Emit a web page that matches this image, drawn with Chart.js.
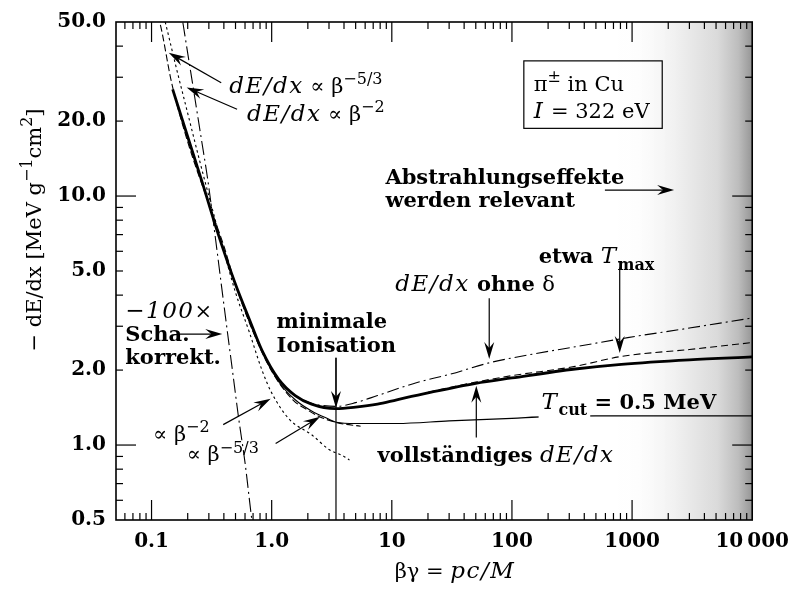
<!DOCTYPE html>
<html>
<head>
<meta charset="utf-8">
<script src="https://cdn.jsdelivr.net/npm/chart.js@4.4.1/dist/chart.umd.min.js"></script>
<style>
  html, body { margin: 0; padding: 0; background: #fff; }
  canvas { display: block; }
</style>
</head>
<body>
<canvas id="dedx" width="799" height="592"></canvas>
<script>
// axis ticks
var xTicks = [0.1, 1, 10, 100, 1000, 10000];
var xTickLabels = ['0.1', '1.0', '10', '100', '1000', '10\u2009000'];
var yTicks = [0.5, 1, 2, 5, 10, 20, 50];
var yTickLabels = ['0.5', '1.0', '2.0', '5.0', '10.0', '20.0', '50.0'];

// vollstaendiges dE/dx (thick)
var fullBg   = [0.15, 0.2, 0.265, 0.35, 0.49, 0.66, 0.83, 1.14, 1.57, 2.15, 3.4, 5, 7.6, 11, 20, 50, 100, 336, 814, 3000, 10000];
var fullDedx = [26.8, 17.3, 11.3, 7.3, 4.54, 3.15, 2.4, 1.84, 1.58, 1.46, 1.40, 1.42, 1.46, 1.52, 1.62, 1.77, 1.86, 2.02, 2.11, 2.2, 2.26];

// T_cut = 0.5 MeV (thin)
var cutBg   = [0.6, 0.83, 1.14, 1.57, 2.15, 3.0, 3.45, 5, 11, 30, 100, 190, 500, 10000];
var cutDedx = [3.45, 2.38, 1.80, 1.52, 1.37, 1.27, 1.235, 1.22, 1.22, 1.25, 1.28, 1.30, 1.31, 1.31];

// dE/dx ohne delta (dash-dot)
var noDeltaBg   = [1.8, 2.15, 3.43, 5, 7.6, 16, 30, 65, 150, 336, 919, 3000, 10000];
var noDeltaDedx = [1.52, 1.47, 1.43, 1.48, 1.58, 1.78, 1.92, 2.14, 2.32, 2.48, 2.70, 2.95, 3.24];

// etwa T_max (dashed)
var tmaxBg   = [20, 50, 100, 336, 814, 3000, 10000];
var tmaxDedx = [1.63, 1.79, 1.90, 2.07, 2.27, 2.42, 2.58];

// ~ beta^-2 (dotted)
var b2Bg   = [0.12, 0.13, 0.16, 0.2, 0.25, 0.3, 0.4, 0.5, 0.65, 0.83, 1.0, 1.4, 2.15, 3.0, 4.0, 4.44];
var b2Dedx = [58, 50, 33, 21.5, 14, 10, 6.0, 4.1, 2.85, 2.0, 1.62, 1.27, 1.1, 0.96, 0.9, 0.87];

// ~ beta^-5/3 (dashed)
var b53Bg   = [0.105, 0.117, 0.147, 0.2, 0.3, 0.4, 0.5, 0.7, 1.0, 1.5, 2.0, 2.5, 3.5, 5.5];
var b53Dedx = [58, 50, 28.5, 16.5, 9.3, 6.3, 4.4, 2.85, 1.98, 1.52, 1.38, 1.30, 1.23, 1.19];

// -100 x Schalenkorrektur (dash-dot)
var shellBg   = [0.17, 0.182, 0.22, 0.26, 0.294, 0.34, 0.378, 0.43, 0.471, 0.53, 0.6, 0.684, 0.72];
var shellDedx = [62, 50, 28.1, 16.9, 11.6, 6.8, 4.54, 2.8, 2.0, 1.29, 0.85, 0.5, 0.42];

var FONT = '"DejaVu Serif", serif';

function pts(xs, ys) {
  return xs.map(function (v, i) { return { x: v, y: ys[i] }; });
}

function curve(xs, ys, width, dash) {
  return {
    data: pts(xs, ys),
    borderColor: '#000',
    borderWidth: width,
    borderDash: dash,
    pointRadius: 0,
    fill: false,
    cubicInterpolationMode: 'monotone'
  };
}

// text pieces: [text, style ('b','i','' ), shift ('sup','sub')]
function fontOf(p, size) {
  var st = p[1] || '';
  var sz = p[2] ? size * 0.75 : size;
  if (st.indexOf('i') >= 0) sz *= 1.08;
  return (st.indexOf('i') >= 0 ? 'italic ' : '') + (st.indexOf('b') >= 0 ? 'bold ' : '') + Math.round(sz) + 'px ' + FONT;
}

function spacingOf(p) {
  return (p[1] || '').indexOf('i') >= 0 ? '1.5px' : '0px';
}

function richWidth(ctx, parts, size) {
  var w = 0;
  parts.forEach(function (p) {
    ctx.font = fontOf(p, size);
    ctx.letterSpacing = spacingOf(p);
    w += ctx.measureText(p[0]).width;
  });
  ctx.letterSpacing = '0px';
  return w;
}

function drawRich(ctx, x, y, parts, size, align) {
  var w = richWidth(ctx, parts, size);
  if (align === 'center') x -= w / 2;
  ctx.textAlign = 'left';
  ctx.textBaseline = 'alphabetic';
  parts.forEach(function (p) {
    ctx.font = fontOf(p, size);
    ctx.letterSpacing = spacingOf(p);
    var dy = p[2] === 'sup' ? -0.42 * size : (p[2] === 'sub' ? 0.3 * size : 0);
    ctx.fillText(p[0], x, y + dy);
    x += ctx.measureText(p[0]).width;
  });
  ctx.letterSpacing = '0px';
  return w;
}

function arrowLine(ctx, x1, y1, x2, y2) {
  var a = Math.atan2(y2 - y1, x2 - x1), L = 17, W = 5;
  var c = Math.cos(a), s = Math.sin(a);
  ctx.beginPath();
  ctx.moveTo(x1, y1);
  ctx.lineTo(x2 - c * L * 0.6, y2 - s * L * 0.6);
  ctx.stroke();
  ctx.beginPath();
  ctx.moveTo(x2, y2);
  ctx.lineTo(x2 - L * c + W * s, y2 - L * s - W * c);
  ctx.lineTo(x2 - L * 0.65 * c, y2 - L * 0.65 * s);
  ctx.lineTo(x2 - L * c - W * s, y2 - L * s + W * c);
  ctx.closePath();
  ctx.fill();
}

// annotations, placed in data coordinates (betagamma, dE/dx)
var notes = [
  { at: [0.443, 26.0], parts: [['dE/dx', 'i'], [' \u221D ', ''], ['\u03B2', ''], ['\u22125/3', '', 'sup']] },
  { at: [0.622, 20.1], parts: [['dE/dx', 'i'], [' \u221D ', ''], ['\u03B2', ''], ['\u22122', '', 'sup']] },
  { at: [151.7, 26.5], parts: [['\u03C0', ''], ['\u00B1', '', 'sup'], [' in Cu', '']] },
  { at: [151.7, 20.5], parts: [['I', 'i'], [' = 322 eV', '']] },
  { at: [8.84, 11.17], parts: [['Abstrahlungseffekte', 'b']] },
  { at: [8.84, 9.05], parts: [['werden relevant', 'b']] },
  { at: [166.8, 5.36], parts: [['etwa ', 'b'], ['T', 'i'], ['max', 'b', 'sub']] },
  { at: [10.69, 4.14], parts: [['dE/dx', 'i'], [' ohne ', 'b'], ['\u03B4', '']] },
  { at: [7.6, 0.852], parts: [['vollst\u00E4ndiges ', 'b'], ['dE/dx', 'i']] },
  { at: [176.6, 1.40], parts: [['T', 'i'], ['cut', 'b', 'sub'], [' = 0.5 MeV', 'b']], knock: 2 },
  { at: [1.099, 2.95], parts: [['minimale', 'b']] },
  { at: [1.099, 2.36], parts: [['Ionisation', 'b']] },
  { at: [0.0605, 3.23], parts: [['\u2212100', 'i'], ['\u00D7', '']] },
  { at: [0.0605, 2.62], parts: [['Scha.', 'b']] },
  { at: [0.0605, 2.12], parts: [['korrekt.', 'b']] },
  { at: [0.1029, 1.04], parts: [['\u221D \u03B2', ''], ['\u22122', '', 'sup']] },
  { at: [0.196, 0.86], parts: [['\u221D \u03B2', ''], ['\u22125/3', '', 'sup']] }
];

var arrows = [
  { from: [0.380, 28.5], to: [0.139, 37.6] },
  { from: [0.515, 22.3], to: [0.196, 27.3] },
  { from: [594, 10.57], to: [2238, 10.57] },
  { from: [789, 5.16], to: [789, 2.34] },
  { from: [64.7, 3.885], to: [64.7, 2.216] },
  { from: [50.5, 1.072], to: [50.5, 1.73] },
  { from: [0.1716, 2.79], to: [0.388, 2.79] },
  { from: [0.395, 1.208], to: [0.981, 1.535] },
  { from: [1.079, 1.015], to: [2.53, 1.30] }
];

var infoBox = { from: [125.6, 34.9], to: [1782, 18.7] };
var minMarker = { bg: 3.43, top: 2.24, tip: 1.41 };
var shadeFrom = 700;

var shade = {
  id: 'shade',
  beforeDatasetsDraw: function (chart) {
    var ctx = chart.ctx, a = chart.chartArea, sx = chart.scales.x;
    var x0 = sx.getPixelForValue(shadeFrom);
    var g = ctx.createLinearGradient(x0, 0, a.right, 0);
    g.addColorStop(0, 'rgba(255,255,255,0)');
    g.addColorStop(0.45, '#f0f0f0');
    g.addColorStop(0.75, '#dadada');
    g.addColorStop(0.9, '#bdbdbd');
    g.addColorStop(1, '#969696');
    ctx.save();
    ctx.fillStyle = g;
    ctx.fillRect(x0, a.top, a.right - x0, a.bottom - a.top);
    ctx.restore();
  }
};

var frame = {
  id: 'frame',
  afterDatasetsDraw: function (chart) {
    var ctx = chart.ctx, a = chart.chartArea, sx = chart.scales.x, sy = chart.scales.y;
    ctx.save();
    ctx.strokeStyle = '#000';
    ctx.fillStyle = '#000';
    ctx.lineWidth = 1.6;
    ctx.strokeRect(a.left, a.top, a.right - a.left, a.bottom - a.top);

    ctx.lineWidth = 1.2;
    function seg(x1, y1, x2, y2) { ctx.beginPath(); ctx.moveTo(x1, y1); ctx.lineTo(x2, y2); ctx.stroke(); }
    var e, m, v, p, len;
    for (e = -2; e <= 4; e++) {
      for (m = 1; m <= 9; m++) {
        v = m * Math.pow(10, e);
        if (v <= sx.min || v >= sx.max) continue;
        p = sx.getPixelForValue(v);
        len = m === 1 ? 20 : 7;
        seg(p, a.bottom, p, a.bottom - len);
        seg(p, a.top, p, a.top + len);
      }
    }
    for (e = -1; e <= 1; e++) {
      for (m = 1; m <= 9; m++) {
        v = m * Math.pow(10, e);
        if (v <= sy.min || v >= sy.max) continue;
        p = sy.getPixelForValue(v);
        len = m === 1 ? 20 : 7;
        seg(a.left, p, a.left + len, p);
        seg(a.right, p, a.right - len, p);
      }
    }

    // info box
    var bx1 = sx.getPixelForValue(infoBox.from[0]), by1 = sy.getPixelForValue(infoBox.from[1]);
    var bx2 = sx.getPixelForValue(infoBox.to[0]), by2 = sy.getPixelForValue(infoBox.to[1]);
    ctx.strokeRect(bx1, by1, bx2 - bx1, by2 - by1);

    // minimum ionisation marker
    var mx = sx.getPixelForValue(minMarker.bg);
    var mt = sy.getPixelForValue(minMarker.top);
    var mtip = sy.getPixelForValue(minMarker.tip);
    seg(mx, mt, mx, a.bottom);
    arrowLine(ctx, mx, mt, mx, mtip);

    // arrows
    arrows.forEach(function (ar) {
      arrowLine(ctx,
        sx.getPixelForValue(ar.from[0]), sy.getPixelForValue(ar.from[1]),
        sx.getPixelForValue(ar.to[0]), sy.getPixelForValue(ar.to[1]));
    });

    // texts
    notes.forEach(function (n) {
      var x = sx.getPixelForValue(n.at[0]), y = sy.getPixelForValue(n.at[1]);
      if (n.knock) {
        var kw = richWidth(ctx, n.parts.slice(0, n.knock), 21);
        ctx.fillStyle = '#fff';
        ctx.fillRect(x - 3, y - 18, kw + 6, 28);
        ctx.fillStyle = '#000';
      }
      drawRich(ctx, x, y, n.parts, 21);
    });

    // axis titles
    drawRich(ctx, 455, 578, [['\u03B2\u03B3 = ', ''], ['pc/M', 'i']], 21, 'center');
    ctx.translate(41, 230);
    ctx.rotate(-Math.PI / 2);
    drawRich(ctx, 0, 0, [['\u2212 dE/dx [MeV g', ''], ['\u22121', '', 'sup'], ['cm', ''], ['2', '', 'sup'], [']', '']], 21, 'center');
    ctx.restore();
  }
};

var ctx = document.getElementById('dedx').getContext('2d');
var chart = new Chart(ctx, {
  type: 'line',
  data: {
    datasets: [
      curve(fullBg, fullDedx, 2.8, []),
      curve(cutBg, cutDedx, 1.1, []),
      curve(noDeltaBg, noDeltaDedx, 1.1, [12, 4, 2, 4]),
      curve(tmaxBg, tmaxDedx, 1.1, [7, 4]),
      curve(b2Bg, b2Dedx, 1.1, [2.5, 3]),
      curve(b53Bg, b53Dedx, 1.1, [7, 3]),
      curve(shellBg, shellDedx, 1.1, [14, 4, 2, 4])
    ]
  },
  options: {
    responsive: false,
    animation: false,
    devicePixelRatio: 1,
    layout: { padding: { left: 0, right: 39, top: 19, bottom: 0 } },
    plugins: { legend: { display: false }, tooltip: { enabled: false } },
    scales: {
      x: {
        type: 'logarithmic',
        min: 0.0506,
        max: 10000,
        grid: { display: false, drawTicks: false },
        border: { display: false },
        afterBuildTicks: function (s) { s.ticks = xTicks.map(function (v) { return { value: v }; }); },
        afterFit: function (s) { s.height = 72; },
        ticks: {
          autoSkip: false,
          maxRotation: 0,
          padding: 10,
          color: '#000',
          font: { family: FONT, size: 20, weight: 'bold' },
          callback: function (v, i) { return xTickLabels[i]; }
        }
      },
      y: {
        type: 'logarithmic',
        min: 0.5,
        max: 50,
        grid: { display: false, drawTicks: false },
        border: { display: false },
        afterBuildTicks: function (s) { s.ticks = yTicks.map(function (v) { return { value: v }; }); },
        afterFit: function (s) { s.width = 116; },
        ticks: {
          autoSkip: false,
          padding: 10,
          color: '#000',
          font: { family: FONT, size: 20, weight: 'bold' },
          callback: function (v, i) { return yTickLabels[i]; }
        }
      }
    }
  },
  plugins: [shade, frame]
});
</script>
</body>
</html>
